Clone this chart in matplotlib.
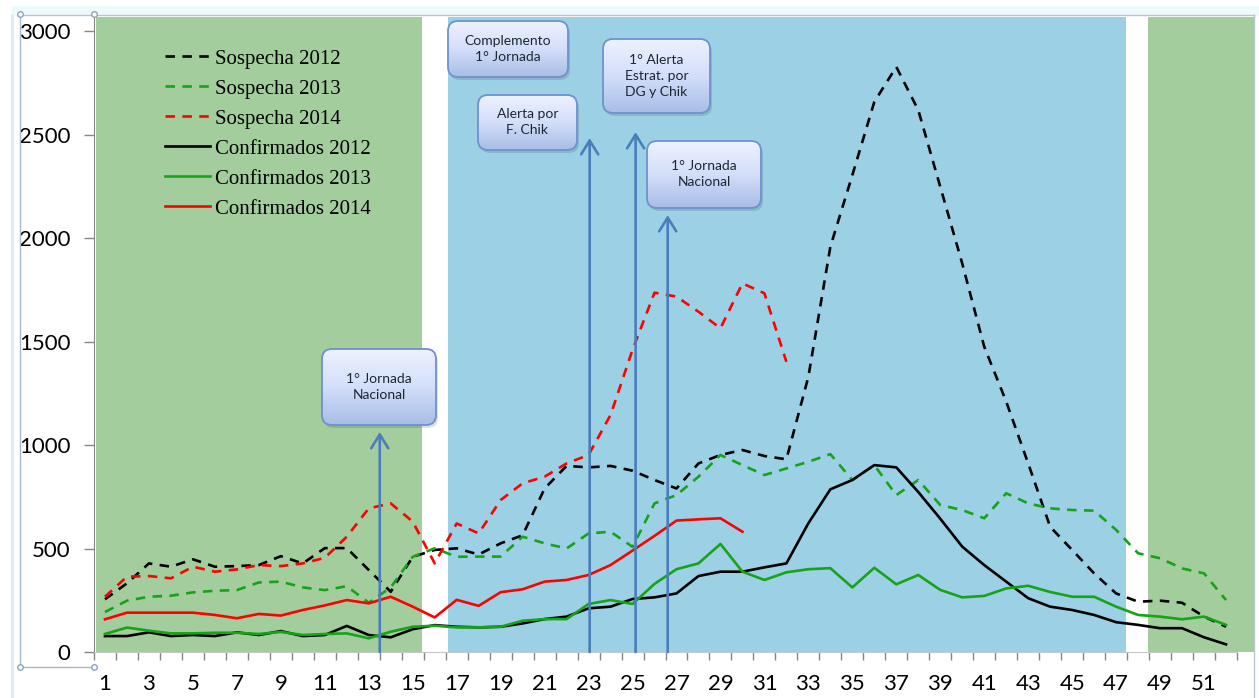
import numpy as np
import matplotlib.pyplot as plt
from matplotlib.patches import FancyBboxPatch, Rectangle
from matplotlib.colors import LinearSegmentedColormap

# semanas epidemiologicas
semanas = np.arange(1, 53)

sospecha_2012 = [255, 332, 428, 412, 448, 412, 415, 420, 463, 428, 502, 502, 396, 291, 460, 493,
                 501, 471, 525, 564, 790, 899, 892, 899, 876, 831, 790, 911, 952, 976, 947, 931,
                 1330, 1958, 2304, 2658, 2827, 2618, 2248, 1877, 1475, 1210, 911, 605, 493, 380,
                 283, 243, 248, 238, 171, 122]
sospecha_2013 = [193, 248, 267, 272, 288, 296, 299, 336, 340, 312, 299, 318, 238, 312, 460, 501,
                 460, 461, 461, 557, 525, 500, 573, 581, 508, 718, 758, 847, 952, 903, 855, 887,
                 919, 956, 831, 903, 758, 831, 710, 686, 646, 767, 718, 694, 686, 683, 590, 477,
                 453, 404, 380, 251]
sospecha_2014 = [267, 364, 367, 356, 412, 388, 399, 420, 415, 428, 455, 557, 694, 718, 630, 428,
                 621, 573, 734, 815, 847, 911, 952, 1145, 1460, 1736, 1717, 1644, 1564, 1781, 1733,
                 1402]
confirmados_2012 = [77, 77, 95, 77, 82, 77, 95, 82, 101, 77, 82, 126, 82, 71, 110, 130, 122, 119,
                    122, 138, 159, 171, 211, 219, 256, 264, 283, 367, 388, 388, 409, 428, 622, 786,
                    831, 903, 892, 773, 644, 509, 420, 340, 260, 219, 203, 179, 144, 131, 115, 115,
                    71, 37]
confirmados_2013 = [87, 118, 103, 90, 90, 93, 93, 87, 97, 82, 87, 90, 66, 98, 122, 127, 119, 119,
                    122, 151, 159, 159, 232, 251, 232, 329, 400, 428, 522, 388, 348, 385, 400, 405,
                    312, 407, 327, 372, 300, 264, 271, 307, 320, 290, 267, 267, 219, 179, 171, 158,
                    171, 131]
confirmados_2014 = [158, 190, 190, 190, 190, 179, 163, 184, 176, 203, 225, 251, 235, 267, 219, 167,
                    252, 223, 289, 303, 340, 348, 372, 420, 490, 561, 635, 641, 646, 581]

# eventos (semana, altura de la flecha)
evento_semana = [13.5, 23.05, 25.14, 26.6]
evento_altura = [1063, 2483, 2512, 2111]

W, H = 1259, 698
verde_bg = '#a3cd9d'
azul_bg = '#9cd1e5'
verde = '#17a317'

fig = plt.figure(figsize=(W / 100, H / 100), dpi=100)
fig.patch.set_facecolor('white')
ax = fig.add_axes([94 / W, 46 / H, (1237 - 94) / W, (652 - 17) / H])
ax.set_facecolor('white')

# periodos sombreados
ax.axvspan(0.59, 15.41, color=verde_bg, zorder=0, lw=0)
ax.axvspan(16.59, 47.45, color=azul_bg, zorder=0, lw=0)
ax.axvspan(48.45, 53.27, color=verde_bg, zorder=0, lw=0, clip_on=False)

lw = 1.9
dash = (3.6, 2.8)
ax.plot(semanas, sospecha_2012, color='black', lw=lw, dashes=dash, label='Sospecha 2012', zorder=3)
ax.plot(semanas, sospecha_2013, color=verde, lw=lw, dashes=dash, label='Sospecha 2013', zorder=3)
ax.plot(semanas[:len(sospecha_2014)], sospecha_2014, color='#ff0000', lw=lw, dashes=dash,
        label='Sospecha 2014', zorder=3)
ax.plot(semanas, confirmados_2012, color='black', lw=lw, label='Confirmados 2012', zorder=3)
ax.plot(semanas, confirmados_2013, color=verde, lw=lw, label='Confirmados 2013', zorder=3)
ax.plot(semanas[:len(confirmados_2014)], confirmados_2014, color='#ff0000', lw=lw,
        label='Confirmados 2014', zorder=3)

for xs, ys in zip(evento_semana, evento_altura):
    ax.annotate('', xy=(xs, ys), xytext=(xs, 0),
                arrowprops=dict(arrowstyle='->,head_length=0.45,head_width=0.28',
                                color='#4a7ebb', lw=1.9, mutation_scale=22,
                                shrinkA=0, shrinkB=0), zorder=5)

ax.set_xlim(0.5, 52.5)
ax.set_ylim(0, 3068)
ax.set_yticks(range(0, 3001, 500))
ax.set_xticks(range(1, 53, 2))
ax.set_xticks(np.arange(0.5, 53, 1), minor=True)
ax.tick_params(axis='x', which='major', length=0, pad=16, labelsize=16)
ax.tick_params(axis='x', which='minor', length=6, width=1, color='#868686', direction='out')
ax.tick_params(axis='y', length=7, width=1, color='#868686', pad=10, labelsize=16)
for lab in ax.get_xticklabels() + ax.get_yticklabels():
    lab.set_fontfamily('Lato')
for s in ['top', 'right']:
    ax.spines[s].set_visible(False)
ax.spines['left'].set_color('#868686')
ax.spines['bottom'].set_color('#c8c8c8')

leg = ax.legend(loc='upper left', bbox_to_anchor=(165 / W, 1 - 49 / H),
                bbox_transform=fig.transFigure, frameon=False,
                prop={'family': 'Liberation Serif', 'size': 15},
                handlelength=2.16, handletextpad=0.25, labelspacing=0.5,
                borderpad=0, borderaxespad=0)

# capa en pixeles para cuadros de texto y marco
ov = fig.add_axes([0, 0, 1, 1], zorder=10)
ov.patch.set_alpha(0)
ov.axis('off')

cajas = [
    ((322, 349, 436, 425), '1° Jornada\nNacional'),
    ((448, 21, 568, 77), 'Complemento\n1° Jornada'),
    ((478, 95, 577, 150), 'Alerta por\nF. Chik'),
    ((603, 39, 710, 113), '1° Alerta\nEstrat. por\nDG y Chik'),
    ((647, 141, 761, 208), '1° Jornada\nNacional'),
]
grad = np.linspace(0, 1, 100).reshape(-1, 1)
cmap = LinearSegmentedColormap.from_list('caja', ['#eef2ff', '#d3defa', '#a8bde6'])
for (x0, y0, x1, y1), txt in cajas:
    sombra = FancyBboxPatch((x0 + 2, y0 + 3), x1 - x0, y1 - y0,
                            boxstyle='round,pad=0,rounding_size=10',
                            fc='#000000', alpha=0.12, ec='none')
    ov.add_patch(sombra)
    caja = FancyBboxPatch((x0, y0), x1 - x0, y1 - y0,
                          boxstyle='round,pad=0,rounding_size=10',
                          fc='none', ec='#6e91cf', lw=1.3, zorder=3)
    ov.add_patch(caja)
    im = ov.imshow(grad, cmap=cmap, extent=(x0, x1, y1, y0), origin='upper',
                   aspect='auto', zorder=2)
    im.set_clip_path(caja)
    ov.text((x0 + x1) / 2, (y0 + y1) / 2, txt, ha='center', va='center',
            fontsize=10, family='Lato', color='#1c2733', linespacing=1.4, zorder=4)

# marco del grafico
ov.add_patch(Rectangle((12, 6), 1250, 10, fc='#eef9fc', ec='none'))
ov.plot([20, 1254], [15, 15], color='#b9c6cc', lw=1)
ov.plot([1254, 1254], [15, 698], color='#b9c6cc', lw=1)
ov.plot([20, 20, 94], [15, 667, 667], color='#a9b8c6', lw=1)
ov.plot([12, 12], [15, 698], color='#dcecf4', lw=2)
ov.plot([20, 94, 20, 94], [14, 14, 667, 667], 'o', ms=4, mfc='white', mec='#8aa4c0', mew=1)

ov.set_xlim(0, W)
ov.set_ylim(H, 0)

fig.savefig('out.png', dpi=100)
